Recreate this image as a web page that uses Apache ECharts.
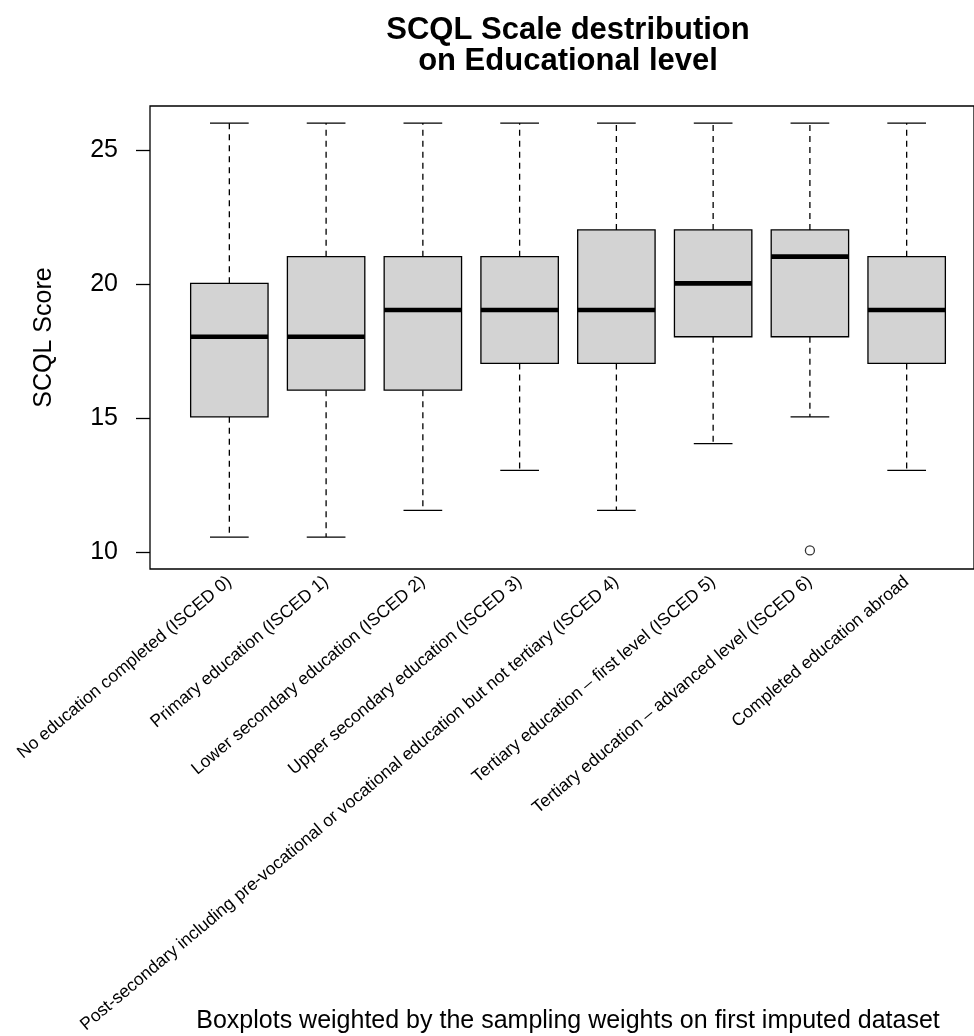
<!DOCTYPE html>
<html>
<head>
<meta charset="utf-8">
<title>SCQL Scale destribution on Educational level</title>
<script src="https://cdn.jsdelivr.net/npm/echarts@6/dist/echarts.min.js"></script>
<style>
  html, body { margin: 0; padding: 0; background: #ffffff; }
  #chart { width: 974px; height: 1036px; }
</style>
</head>
<body>
<div id="chart"></div>
<script>
// Educational levels (one box per level)
const categories = [
  'No education completed (ISCED 0)',
  'Primary education (ISCED 1)',
  'Lower secondary education (ISCED 2)',
  'Upper secondary education (ISCED 3)',
  'Post-secondary including pre-vocational or vocational education but not tertiary (ISCED 4)',
  'Tertiary education \u2013 first level (ISCED 5)',
  'Tertiary education \u2013 advanced level (ISCED 6)',
  'Completed education abroad'
];

// Five-number summaries of the SCQL score per level
const lowerWhisker = [10.5, 10.5, 11.5, 13, 11.5, 14, 15, 13];
const lowerQuartile = [15, 16, 16, 17, 17, 18, 18, 17];
const medians = [18, 18, 19, 19, 19, 20, 21, 19];
const upperQuartile = [20, 21, 21, 21, 22, 22, 22, 21];
const upperWhisker = [26, 26, 26, 26, 26, 26, 26, 26];

// Points beyond the whiskers: [level index, score]
const outliers = [[6, 10]];

// Y axis range and tick labels
const yMin = 9.36;
const yMax = 26.64;
const yTicks = [10, 15, 20, 25];

const FONT = 'Liberation Sans, Arial, Helvetica, sans-serif';

// Plot frame and inner band area (the frame leaves 0.32 of a slot on each side)
const frameLeft = 150, frameTop = 106, frameHeight = 463;
const slot = 96.76;
const frameWidth = slot * 8.64;
const innerLeft = frameLeft + slot * 0.32;
const innerWidth = slot * 8;

const boxData = categories.map((c, i) => [
  i, lowerWhisker[i], lowerQuartile[i], medians[i], upperQuartile[i], upperWhisker[i]
]);

function renderBox(params, api) {
  const i = api.value(0);
  const pMin = api.coord([i, api.value(1)]);
  const pQ1 = api.coord([i, api.value(2)]);
  const pMed = api.coord([i, api.value(3)]);
  const pQ3 = api.coord([i, api.value(4)]);
  const pMax = api.coord([i, api.value(5)]);
  const band = api.size([1, 0])[0];
  const boxW = band * 0.8;
  const capW = boxW * 0.5;
  const x = pMed[0];
  const thin = { stroke: '#000', lineWidth: 1.3, fill: null };
  const dashed = { stroke: '#000', lineWidth: 1.3, lineDash: [6, 5], fill: null };
  return {
    type: 'group',
    children: [
      { type: 'line', shape: { x1: x, y1: pQ1[1], x2: x, y2: pMin[1] }, style: dashed },
      { type: 'line', shape: { x1: x, y1: pQ3[1], x2: x, y2: pMax[1] }, style: dashed },
      { type: 'line', shape: { x1: x - capW / 2, y1: pMin[1], x2: x + capW / 2, y2: pMin[1] }, style: thin },
      { type: 'line', shape: { x1: x - capW / 2, y1: pMax[1], x2: x + capW / 2, y2: pMax[1] }, style: thin },
      {
        type: 'rect',
        shape: { x: x - boxW / 2, y: pQ3[1], width: boxW, height: pQ1[1] - pQ3[1] },
        style: { fill: '#d3d3d3', stroke: '#000', lineWidth: 1.3 }
      },
      {
        type: 'line',
        shape: { x1: x - boxW / 2, y1: pMed[1], x2: x + boxW / 2, y2: pMed[1] },
        style: { stroke: '#000', lineWidth: 4.6, lineCap: 'butt' }
      }
    ]
  };
}

const chart = echarts.init(document.getElementById('chart'), null, { renderer: 'canvas' });

chart.setOption({
  backgroundColor: '#ffffff',
  animation: false,
  textStyle: { fontFamily: FONT, color: '#000' },
  title: [
    {
      text: 'SCQL Scale destribution\non Educational level',
      left: frameLeft + frameWidth / 2,
      top: 15,
      textAlign: 'center',
      padding: 0,
      textStyle: { fontFamily: FONT, fontSize: 31, fontWeight: 'bold', color: '#000', lineHeight: 31 }
    },
    {
      text: 'Boxplots weighted by the sampling weights on first imputed dataset',
      left: frameLeft + frameWidth / 2,
      top: 1009,
      textAlign: 'center',
      padding: 0,
      textStyle: { fontFamily: FONT, fontSize: 25, fontWeight: 'normal', color: '#000' }
    }
  ],
  grid: [
    {
      left: frameLeft, top: frameTop, width: frameWidth, height: frameHeight,
      show: true, borderColor: '#000', borderWidth: 1.3, backgroundColor: 'transparent'
    },
    { left: innerLeft, top: frameTop, width: innerWidth, height: frameHeight }
  ],
  xAxis: [
    { gridIndex: 0, type: 'value', min: 0, max: 1, show: false },
    {
      gridIndex: 1,
      type: 'category',
      data: categories,
      axisLine: { show: false },
      axisTick: { show: false },
      splitLine: { show: false },
      axisLabel: {
        interval: 0,
        rotate: 40,
        margin: 12,
        fontSize: 17.5,
        fontFamily: FONT,
        color: '#000'
      }
    }
  ],
  yAxis: [
    {
      gridIndex: 0,
      type: 'value',
      min: yMin,
      max: yMax,
      name: 'SCQL Score',
      nameLocation: 'middle',
      nameGap: 93,
      nameTextStyle: { fontSize: 25, fontFamily: FONT, color: '#000' },
      axisLine: { show: false },
      splitLine: { show: false },
      axisTick: {
        show: true,
        length: 14,
        customValues: yTicks,
        lineStyle: { color: '#000', width: 1.3 }
      },
      axisLabel: {
        customValues: yTicks,
        margin: 32,
        fontSize: 25,
        fontFamily: FONT,
        color: '#000'
      }
    },
    { gridIndex: 1, type: 'value', min: yMin, max: yMax, show: false }
  ],
  series: [
    {
      name: 'SCQL Score',
      type: 'custom',
      xAxisIndex: 1,
      yAxisIndex: 1,
      renderItem: renderBox,
      encode: { x: 0, y: [1, 2, 3, 4, 5] },
      data: boxData,
      clip: false
    },
    {
      name: 'Outliers',
      type: 'scatter',
      xAxisIndex: 1,
      yAxisIndex: 1,
      data: outliers,
      symbol: 'circle',
      symbolSize: 9,
      itemStyle: { color: '#ffffff', borderColor: '#000', borderWidth: 1.3 }
    }
  ]
});
</script>
</body>
</html>
